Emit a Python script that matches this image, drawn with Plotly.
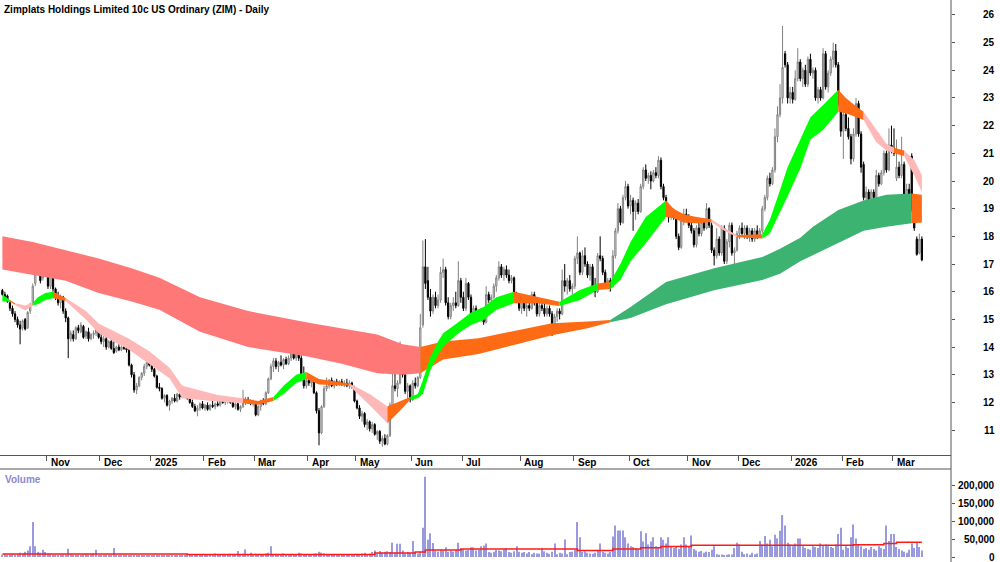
import pandas as pd
import plotly.graph_objects as go

TITLE = "Zimplats Holdings Limited 10c US Ordinary (ZIM) - Daily"

# Daily bars: (open, high, low, close, volume in thousands), one list per month
oct24 = [(16.05,16.1,15.85,15.9,6),(15.9,16.0,15.75,15.8,8),(15.85,15.9,15.6,15.65,5),(15.6,15.65,15.3,15.4,7),
         (15.4,15.5,15.1,15.2,9),(15.2,15.3,14.9,15.0,6),(15.0,15.1,14.7,14.8,8),(14.8,14.95,14.1,14.65,12),
         (14.7,15.0,14.6,14.95,9),(15.0,15.05,14.6,14.65,15),(14.7,15.3,14.65,15.25,18),(15.3,15.6,15.2,15.5,30),
         (15.6,16.3,15.5,16.2,98),(16.3,17.5,16.2,17.0,30),(17.0,17.55,16.6,16.7,14),(16.9,17.2,16.3,16.4,12),
         (16.5,17.25,16.4,17.1,20),(17.05,17.3,16.8,16.95,14)]
nov24 = [(16.95,17.0,16.1,16.2,10),(16.2,16.65,16.1,16.55,8),(16.5,16.6,16.0,16.1,6),(16.1,16.15,15.7,15.8,7),
         (15.8,16.0,15.5,15.6,5),(15.6,15.9,15.4,15.8,8),(15.8,15.85,15.2,15.3,7),(15.3,15.4,14.9,15.05,6),
         (15.05,15.1,13.6,14.3,23),(14.3,14.6,14.2,14.5,8),(14.45,14.6,14.2,14.3,6),(14.3,14.75,14.25,14.7,7),
         (14.7,14.8,14.5,14.6,5),(14.55,14.9,14.5,14.8,6),(14.75,14.8,14.3,14.35,8),(14.4,14.6,14.3,14.55,9),
         (14.55,14.7,14.2,14.3,6),(14.3,14.5,14.25,14.45,7),(14.45,14.6,14.3,14.5,9),(14.5,14.8,14.4,14.7,20),
         (14.7,14.75,14.3,14.35,5)]
dec24 = [(14.35,14.5,14.1,14.2,6),(14.2,14.4,14.0,14.3,5),(14.3,14.4,13.9,14.0,7),(14.0,14.25,13.95,14.2,5),
         (14.2,14.3,13.9,13.95,6),(13.95,14.2,13.75,13.8,25),(13.85,14.05,13.8,14.0,4),(14.0,14.1,13.85,13.9,5),
         (13.9,14.05,13.85,14.0,3),(14.0,14.1,13.9,13.95,6),(13.95,14.05,13.8,13.9,5),(13.9,13.95,13.3,13.35,4),
         (13.35,13.4,12.9,13.0,6),(13.0,13.1,12.35,12.45,5),(12.45,12.7,12.3,12.6,4),(12.6,12.95,12.55,12.9,3),
         (12.9,13.1,12.8,13.05,5),(13.05,13.4,12.95,13.3,6),(13.3,13.55,13.2,13.45,4),(13.45,13.7,13.3,13.35,5)]
jan25 = [(13.35,13.5,13.1,13.2,4),(13.2,13.25,12.9,12.95,5),(12.95,13.0,12.5,12.55,3),(12.55,12.7,12.4,12.5,6),
         (12.5,12.55,12.1,12.15,4),(12.15,12.3,12.0,12.25,5),(12.25,12.3,11.85,11.9,3),(11.9,12.1,11.7,12.05,4),
         (12.05,12.2,11.95,12.15,6),(12.15,12.3,12.0,12.05,5),(12.05,12.35,12.0,12.3,4),(12.3,12.4,12.1,12.2,3),
         (12.2,12.5,12.15,12.45,5),(12.45,12.55,12.3,12.35,6),(12.35,12.4,12.1,12.15,4),(12.15,12.2,11.95,12.0,5),
         (12.0,12.1,11.8,11.85,3),(11.85,11.95,11.65,11.7,4),(11.7,11.9,11.5,11.8,6),(11.8,12.0,11.7,11.95,5),
         (11.95,12.05,11.75,11.8,4)]
feb25 = [(11.8,11.95,11.7,11.9,5),(11.9,12.0,11.7,11.75,8),(11.75,11.95,11.7,11.9,6),(11.9,12.05,11.8,11.85,5),
         (11.85,12.0,11.75,11.95,10),(11.95,12.05,11.85,11.9,7),(11.9,12.1,11.85,12.05,6),(12.05,12.15,11.95,12.0,5),
         (12.0,12.1,11.9,12.05,8),(12.05,12.2,11.95,12.1,7),(12.1,12.15,11.95,12.0,9),(12.0,12.05,11.8,11.85,6),
         (11.85,12.0,11.75,11.95,5),(11.95,12.05,11.7,11.75,17),(11.75,11.9,11.65,11.85,7),(11.85,12.45,11.8,12.0,9),
         (12.0,12.2,11.9,12.1,21),(12.1,12.2,11.95,12.05,6),(12.05,12.1,11.9,11.95,12),(11.95,12.1,11.85,12.0,7)]
mar25 = [(12.0,12.05,11.5,11.55,9),(11.55,11.9,11.5,11.85,7),(11.85,12.1,11.7,12.05,8),(12.05,12.15,11.9,11.95,6),
         (11.95,12.4,11.9,12.35,10),(12.35,12.9,12.3,12.85,12),(12.85,13.4,12.8,13.3,30),(13.3,13.6,13.1,13.5,8),
         (13.5,13.6,13.2,13.3,9),(13.3,13.5,13.1,13.45,7),(13.45,13.7,13.3,13.35,6),(13.35,13.6,13.2,13.55,10),
         (13.55,13.65,13.35,13.4,8),(13.4,13.7,13.35,13.6,7),(13.6,13.95,13.5,13.85,9),(13.85,13.95,13.55,13.6,6),
         (13.6,13.9,13.5,13.8,8),(13.8,13.85,13.5,13.6,12),(13.6,13.7,12.9,13.0,10),(13.0,13.3,12.5,12.6,7),
         (12.6,12.9,12.5,12.8,6)]
apr25 = [(12.8,13.0,12.6,12.7,8),(12.7,12.85,12.55,12.8,6),(12.8,12.85,12.3,12.35,9),(12.35,12.4,11.6,11.7,10),
         (11.7,11.8,10.45,10.9,15),(10.9,11.9,10.85,11.85,12),(11.85,12.6,11.8,12.5,10),(12.5,12.9,12.4,12.6,8),
         (12.6,12.85,12.5,12.8,6),(12.8,12.9,12.55,12.6,5),(12.6,12.8,12.5,12.75,7),(12.75,12.85,12.6,12.7,6),
         (12.7,12.8,12.6,12.75,8),(12.75,12.85,12.6,12.65,5),(12.65,12.8,12.55,12.7,6),(12.7,12.85,12.55,12.6,7),
         (12.6,12.8,12.5,12.7,5),(12.7,12.75,12.5,12.55,6),(12.55,12.6,12.0,12.05,8)]
may25 = [(12.05,12.1,11.75,11.8,9),(11.8,11.9,11.4,11.5,7),(11.5,11.7,11.3,11.6,10),(11.6,11.65,11.1,11.2,12),
         (11.2,11.4,11.0,11.3,8),(11.3,11.35,10.95,11.05,9),(11.05,11.3,10.9,11.2,14),(11.2,11.25,10.8,10.85,18),
         (10.85,11.0,10.65,10.95,10),(10.95,11.0,10.5,10.6,17),(10.6,10.8,10.4,10.7,12),(10.7,10.85,10.45,10.5,15),
         (10.5,10.85,10.45,10.8,16),(10.8,12.0,10.75,11.9,14),(11.9,13.1,11.85,12.6,40),(12.6,13.1,12.4,12.5,12),
         (12.5,12.8,12.2,12.7,37),(12.7,14.2,12.65,13.9,37),(13.9,14.0,12.9,13.0,18),(13.0,13.2,12.3,12.4,10),
         (12.4,12.7,12.1,12.6,14),(12.6,12.65,12.0,12.1,11)]
jun25 = [(12.1,12.8,12.05,12.7,45),(12.7,12.9,12.5,12.6,12),(12.6,12.95,12.55,12.9,10),(12.9,15.2,12.85,14.7,15),
         (14.8,17.85,14.7,16.9,82),(16.9,17.9,16.1,16.3,224),(16.4,16.9,15.7,15.8,48),(15.8,16.1,15.1,15.3,66),
         (15.3,15.9,15.2,15.8,39),(15.8,16.0,15.4,15.5,18),(15.5,15.9,15.4,15.7,15),(15.7,16.9,15.6,16.7,20),
         (16.7,17.2,16.5,16.8,18),(16.8,16.9,15.5,15.6,27),(15.6,15.8,15.0,15.1,14),(15.1,15.6,15.0,15.5,18),
         (15.5,15.8,15.3,15.6,15),(15.6,16.0,15.4,15.5,19),(15.5,17.1,15.45,16.4,40),(16.4,16.5,15.6,15.8,22)]
jul25 = [(15.8,16.0,15.3,15.4,22),(15.4,16.5,15.3,16.3,18),(16.3,16.35,15.7,15.8,20),(15.8,15.9,15.0,15.1,27),
         (15.1,15.5,14.9,15.4,27),(15.4,15.5,15.0,15.1,18),(15.1,15.35,14.9,15.3,20),(15.3,15.4,14.95,15.0,30),
         (15.0,15.1,14.8,14.9,32),(14.9,16.2,14.85,15.9,38),(15.9,16.0,15.6,15.7,14),(15.7,15.9,15.5,15.8,12),
         (15.8,16.3,15.75,16.2,15),(16.2,16.6,16.0,16.5,20),(16.5,17.1,16.4,16.9,18),(16.9,17.0,16.5,16.6,16),
         (16.6,16.9,16.4,16.8,22),(16.8,16.95,16.5,16.6,25),(16.6,16.8,16.3,16.4,14),(16.4,16.6,16.3,16.5,12),
         (16.5,16.55,15.8,15.9,16),(15.9,16.0,15.6,15.7,30),(15.7,15.8,15.3,15.4,15)]
aug25 = [(15.4,15.9,15.2,15.8,12),(15.8,15.9,15.3,15.4,14),(15.4,15.6,15.1,15.5,10),(15.5,15.7,15.3,15.4,14),
         (15.4,16.0,15.35,15.9,8),(15.9,16.0,15.5,15.6,12),(15.6,15.8,15.1,15.2,10),(15.2,15.6,15.1,15.5,9),
         (15.5,15.7,15.3,15.4,25),(15.4,15.6,15.1,15.2,16),(15.2,15.5,15.1,15.4,12),(15.4,15.5,15.1,15.2,9),
         (15.2,15.3,14.4,14.8,15),(14.8,15.2,14.7,15.1,38),(15.1,15.4,14.9,15.3,8),(15.3,15.4,15.0,15.2,12),
         (15.2,16.8,15.15,16.4,10),(16.4,17.0,16.0,16.2,49),(16.2,16.5,15.9,16.4,8),(16.4,16.6,16.0,16.1,14),
         (16.1,16.3,15.9,16.2,15)]
sep25 = [(16.2,17.3,16.1,17.2,20),(17.2,18.0,17.0,17.4,98),(17.4,17.45,16.6,16.7,55),(16.7,17.5,16.6,17.3,14),
         (17.3,17.6,16.9,17.0,16),(17.0,17.1,16.5,16.6,12),(16.6,17.0,16.4,16.9,10),(16.9,17.0,16.1,16.2,9),
         (16.2,16.5,15.8,16.0,12),(16.0,17.4,15.95,17.3,18),(17.3,18.0,17.1,17.2,38),(17.2,17.3,16.6,16.7,15),
         (16.7,16.8,16.2,16.3,12),(16.3,16.5,16.1,16.4,10),(16.4,16.5,16.0,16.2,14),(16.2,17.5,16.15,17.3,57),
         (17.3,18.3,17.2,18.2,88),(18.2,19.2,18.1,19.0,74),(19.0,19.1,18.4,18.5,74),(18.5,19.5,18.45,19.4,74),
         (19.4,20.0,19.3,19.8,55),(19.8,19.9,19.0,19.1,38)]
oct25 = [(19.1,19.5,18.8,19.3,30),(19.3,19.4,18.2,18.9,28),(18.9,19.3,18.6,19.2,25),(19.2,19.35,18.8,18.9,22),
         (18.9,19.9,18.85,19.8,72),(19.8,20.5,19.7,20.4,43),(20.4,20.6,20.0,20.1,66),(20.1,20.3,19.9,20.2,35),
         (20.2,20.35,19.7,20.0,43),(20.0,20.4,19.95,20.3,55),(20.3,20.5,20.1,20.2,30),(20.2,20.9,20.1,20.75,28),
         (20.75,20.85,19.7,19.8,55),(19.8,19.9,19.3,19.4,48),(19.4,19.5,18.8,18.9,38),(18.9,19.1,18.5,18.7,55),
         (18.7,19.0,18.6,18.9,30),(18.9,19.0,18.6,18.75,25),(18.75,18.8,17.9,18.0,28),(18.0,18.1,17.5,17.6,22),
         (17.6,18.8,17.55,18.6,35),(18.6,19.0,18.4,18.8,55),(18.8,19.0,18.5,18.6,35)]
nov25 = [(18.6,18.8,18.3,18.4,30),(18.4,18.5,18.1,18.2,60),(18.2,18.3,17.6,17.7,22),(17.7,18.4,17.6,18.3,18),
         (18.3,18.5,18.0,18.1,15),(18.1,18.6,18.0,18.5,17),(18.5,18.6,18.2,18.3,12),(18.3,19.2,18.25,19.0,15),
         (19.0,19.05,18.3,18.4,14),(18.4,18.5,17.4,17.5,20),(17.5,17.6,16.95,17.3,30),(17.3,18.3,17.2,17.9,8),
         (17.9,18.0,17.3,17.4,6),(17.4,18.4,17.3,18.3,7),(18.3,18.4,17.0,17.1,5),(17.1,17.9,17.0,17.8,6),
         (17.8,18.5,17.6,18.4,8),(18.4,18.5,17.3,17.4,7),(17.4,17.6,16.8,17.5,25),(17.5,18.2,17.45,18.1,40)]
dec25 = [(18.1,18.4,17.9,18.3,35),(18.3,18.5,18.0,18.1,15),(18.1,18.4,17.9,18.3,8),(18.3,18.4,17.9,18.0,10),
         (18.0,18.3,17.8,18.2,6),(18.2,18.3,17.8,17.9,12),(17.9,18.3,17.8,18.2,8),(18.2,18.4,17.9,18.0,10),
         (18.0,18.3,17.95,18.2,45),(18.2,19.1,18.1,19.0,35),(19.0,19.5,18.9,19.4,59),(19.4,20.2,19.3,20.1,38),
         (20.1,20.3,19.8,19.9,48),(19.9,20.5,19.85,20.4,30),(20.4,21.9,20.3,21.6,62),(21.6,22.7,21.4,22.4,52),
         (22.4,23.5,22.3,23.0,73),(23.0,25.6,22.8,24.1,117),(24.6,24.7,24.1,24.2,88),(24.2,24.3,22.8,23.0,40),
         (23.0,23.4,22.8,23.2,35)]
jan26 = [(23.2,23.4,22.8,22.95,30),(22.95,24.0,22.9,23.7,38),(23.7,24.8,23.6,24.3,52),(24.3,24.4,23.6,23.7,52),
         (23.7,24.1,23.4,24.0,30),(24.0,24.2,23.4,23.5,25),(23.5,24.5,23.4,24.4,22),(24.4,24.6,23.8,23.9,20),
         (23.9,24.1,23.7,24.0,30),(24.0,24.1,22.9,23.0,28),(23.0,23.4,22.8,23.3,25),(23.3,23.4,22.9,23.0,38),
         (23.0,24.8,22.95,24.6,33),(24.6,24.7,23.3,23.4,35),(23.4,24.0,23.2,23.9,30),(23.9,24.5,23.8,24.4,28),
         (24.4,25.0,24.1,24.7,25),(24.7,24.95,24.1,24.2,35),(24.2,24.3,22.7,22.8,64),(22.8,22.9,21.6,21.8,82)]
feb26 = [(21.8,22.6,20.8,22.4,20),(22.4,22.5,21.8,21.9,30),(21.9,22.3,21.5,21.6,25),(21.6,21.7,20.6,20.8,55),
         (20.8,21.9,20.7,21.7,91),(21.7,23.0,21.6,22.8,52),(22.8,22.9,21.6,21.7,35),(21.7,21.8,20.3,20.5,30),
         (20.6,20.7,19.3,19.4,22),(19.4,19.8,19.0,19.6,25),(19.6,19.7,18.5,19.2,20),(19.2,19.7,19.1,19.6,28),
         (19.6,19.7,19.3,19.4,22),(19.4,20.4,19.35,20.2,18),(20.2,20.3,19.8,19.9,30),(19.9,20.4,19.85,20.3,25),
         (20.3,21.1,20.2,21.0,22),(21.0,21.1,20.3,20.4,88),(20.4,21.9,20.35,21.3,45),(21.3,22.0,21.0,21.1,64)]
mar26 = [(21.1,21.9,20.9,21.0,64),(20.1,21.5,20.0,20.5,28),(20.5,20.7,20.1,20.2,22),(20.2,21.6,20.1,20.6,18),
         (20.6,20.7,19.0,19.1,15),(19.1,19.9,18.9,19.7,12),(19.7,19.9,19.3,19.5,20),(20.9,21.0,18.9,19.0,38),
         (19.0,19.0,18.2,18.3,25),(17.9,18.0,17.3,17.35,40),(17.4,18.1,17.35,17.9,28),(17.9,18.0,17.1,17.15,18)]

# ASX non-trading weekdays in the period
asx_holidays = ["2024-12-25", "2024-12-26", "2025-01-01", "2025-01-27", "2025-04-18", "2025-04-21",
                "2025-04-25", "2025-06-09", "2025-12-25", "2025-12-26", "2026-01-01", "2026-01-26"]

# Short-term MA ribbon (day index, upper edge, lower edge); state per interval: G rising, O crossing, K falling
short_idx = [0, 3, 5, 9, 12, 14, 17, 20, 25, 33, 38, 50, 58, 66, 71, 85, 95, 101, 107, 111, 116, 120, 125, 137,
             145, 152, 157, 161, 164, 166, 169, 172, 174, 180, 185, 190, 195, 202, 211, 220, 228, 235, 240, 244,
             248, 254, 262, 265, 269, 274, 280, 285, 290, 300, 303, 306, 310, 315, 319, 324, 330, 333, 337, 340,
             345, 349, 352, 356, 360, 363]
short_top = [15.9, 15.7, 15.58, 15.5, 15.6, 15.8, 15.95, 16.0, 15.77, 15.3, 14.85, 14.3, 13.85, 13.25, 12.6, 12.27,
             12.15, 12.05, 12.2, 12.6, 13.0, 13.1, 12.85, 12.68, 12.3, 11.85, 12.05, 12.2, 12.3, 12.8, 13.65, 14.2,
             14.5, 14.9, 15.25, 15.45, 15.8, 16.0, 15.82, 15.64, 16.06, 16.3, 16.36, 17.0, 17.8, 18.7, 19.3, 19.0,
             18.8, 18.7, 18.62, 18.3, 18.05, 18.08, 18.6, 19.4, 20.5, 21.5, 22.3, 22.75, 23.3, 23.0, 22.7, 22.5,
             21.84, 21.35, 21.2, 21.1, 20.76, 20.2]
short_bot = [15.65, 15.65, 15.53, 15.32, 15.5, 15.55, 15.7, 15.76, 15.66, 15.0, 14.5, 13.9, 13.4, 12.87, 12.15, 12.03,
             11.97, 11.92, 12.05, 12.3, 12.7, 12.85, 12.65, 12.6, 11.9, 11.25, 11.7, 12.1, 12.15, 12.3, 13.17, 13.7,
             14.0, 14.5, 14.8, 14.98, 15.35, 15.58, 15.58, 15.48, 15.7, 16.06, 16.1, 16.42, 17.1, 17.75, 18.7, 18.65,
             18.5, 18.47, 18.52, 18.2, 17.97, 17.92, 18.1, 18.7, 19.45, 20.45, 21.5, 21.84, 22.5, 22.45, 22.3, 22.2,
             21.4, 21.1, 21.0, 20.9, 20.2, 19.6]
short_state = "GOKKGGGOKKKKKKKKOOGGGOOKKOOGGGGGGGGGGOOGGOGGGGOOOOKKOGGGGGGGOOOKKKOKK"

# Long-term MA ribbon; state per interval: R falling, O crossing, D rising
long_idx = [0, 12, 25, 38, 51, 62, 78, 97, 121, 134, 148, 158, 165, 174, 188, 198, 217, 231, 240, 248, 262, 281,
            300, 307, 315, 320, 330, 340, 349, 359, 363]
long_top = [18.0, 17.8, 17.5, 17.2, 16.85, 16.5, 15.8, 15.3, 14.88, 14.68, 14.45, 14.1, 14.0, 14.2, 14.32, 14.5,
            14.86, 14.92, 14.98, 15.45, 16.35, 16.85, 17.25, 17.55, 17.95, 18.35, 18.95, 19.3, 19.5, 19.55, 19.5]
long_bot = [16.8, 16.62, 16.4, 15.95, 15.65, 15.35, 14.55, 14.0, 13.65, 13.4, 13.05, 13.0, 13.05, 13.55, 13.75, 14.0,
            14.43, 14.68, 14.9, 15.05, 15.55, 16.05, 16.42, 16.65, 17.1, 17.3, 17.75, 18.2, 18.35, 18.47, 18.5]
long_state = "RRRRRRRRRRRROOOOOODDDDDDDDDDDO"
long_flash_day, long_flash_top, long_flash_bot = 17, 17.65, 16.95

# Volume moving average (step changes: day index, value in thousands)
vol_ma_idx = [0, 73, 147, 163, 167, 181, 227, 241, 252, 260, 272, 336, 348, 353, 363]
vol_ma_val = [8.4, 7.0, 11.0, 14.0, 19.5, 22.0, 18.0, 22.0, 26.0, 29.5, 33.0, 34.5, 37.5, 41.0, 41.0]

price_ticks = list(range(11, 27))
volume_ticks = [0, 50000, 100000, 150000, 200000]

# ---------------------------------------------------------------------------
months = [oct24, nov24, dec24, jan25, feb25, mar25, apr25, may25, jun25, jul25, aug25, sep25,
          oct25, nov25, dec25, jan26, feb26, mar26]
bars = [b for m in months for b in m]
n = len(bars)
opens = [b[0] for b in bars]
highs = [b[1] for b in bars]
lows = [b[2] for b in bars]
closes = [b[3] for b in bars]
vols = [b[4] * 1000 for b in bars]
xs = list(range(n))

dates = pd.bdate_range("2024-10-08", "2026-06-30", freq="C", holidays=asx_holidays)[:n]
month_starts = [i for i in range(1, n) if dates[i].month != dates[i - 1].month]
month_labels = [str(dates[i].year) if dates[i].month == 1 else dates[i].strftime("%b") for i in month_starts]

assert len(short_state) == len(short_idx) - 1 and len(long_state) == len(long_idx) - 1

SHORT_COL = {"G": "#00ff00", "O": "#ff6a14", "K": "#ffb8b8"}
LONG_COL = {"R": "#ff7878", "O": "#ff6a14", "D": "#3cb371"}

fig = go.Figure()


def add_ribbon(idx, top, bot, state, cmap):
    start = 0
    for k in range(1, len(state) + 1):
        if k == len(state) or state[k] != state[start]:
            px = idx[start:k + 1]
            pt = top[start:k + 1]
            pb = bot[start:k + 1]
            fig.add_trace(go.Scatter(x=px + px[::-1], y=pt + pb[::-1], fill="toself",
                                     fillcolor=cmap[state[start]], line=dict(width=0), mode="lines",
                                     hoverinfo="skip", showlegend=False, xaxis="x", yaxis="y"))
            start = k


add_ribbon(long_idx, long_top, long_bot, long_state, LONG_COL)
fig.add_trace(go.Bar(x=[long_flash_day], y=[long_flash_top - long_flash_bot], base=[long_flash_bot],
                     width=0.9, marker=dict(color=LONG_COL["O"], line=dict(width=0)),
                     showlegend=False, hoverinfo="skip", xaxis="x", yaxis="y"))
add_ribbon(short_idx, short_top, short_bot, short_state, SHORT_COL)

fig.add_trace(go.Candlestick(
    x=xs, open=opens, high=highs, low=lows, close=closes,
    increasing=dict(line=dict(color="#808080", width=1), fillcolor="#f4f4f4"),
    decreasing=dict(line=dict(color="#000000", width=1), fillcolor="#000000"),
    whiskerwidth=0, showlegend=False, hoverinfo="skip", xaxis="x", yaxis="y"))

fig.add_trace(go.Bar(x=xs, y=vols, width=0.45, marker=dict(color="#9a9ade", line=dict(width=0)),
                     showlegend=False, hoverinfo="skip", xaxis="x2", yaxis="y2"))
fig.add_trace(go.Scatter(x=vol_ma_idx, y=[v * 1000 for v in vol_ma_val], mode="lines",
                         line=dict(color="#ff1a1a", width=1.5, shape="hv"),
                         showlegend=False, hoverinfo="skip", xaxis="x2", yaxis="y2"))

W, H = 1000, 562
PLOT_R = 951
price_bottom_px = 455
vol_top_px = 469
FONT = "Liberation Sans, Arial, sans-serif"
axis_col = "#555555"

fig.update_layout(
    width=W, height=H, margin=dict(l=0, r=W - PLOT_R, t=0, b=0),
    paper_bgcolor="white", plot_bgcolor="white", showlegend=False, barmode="overlay",
    xaxis=dict(domain=[0, 1], anchor="y", range=[-0.935, 374.5], tickvals=[i - 0.5 for i in month_starts],
               ticks="outside", ticklen=5, tickcolor=axis_col, showticklabels=False, showline=True,
               linecolor=axis_col, linewidth=1, showgrid=False, zeroline=False,
               rangeslider=dict(visible=False)),
    yaxis=dict(domain=[1 - price_bottom_px / H, 1], range=[10.10, 26.54], side="right", anchor="x",
               tickvals=price_ticks, ticks="outside", ticklen=3, tickcolor=axis_col, showticklabels=False,
               showline=False, showgrid=False, zeroline=False),
    xaxis2=dict(domain=[0, 1], anchor="y2", matches="x", showticklabels=False, ticks="",
                showline=False, showgrid=False, zeroline=False),
    yaxis2=dict(domain=[0, (H - vol_top_px) / H], range=[-13966, 245810], side="right", anchor="x2",
                tickvals=volume_ticks, ticks="outside", ticklen=3, tickcolor=axis_col, showticklabels=False,
                showline=False, showgrid=False, zeroline=False),
)

# frame lines: right axis line through both panels and the volume panel top border
fig.add_shape(type="line", xref="paper", yref="paper", x0=1, x1=1, y0=0, y1=1,
              line=dict(color=axis_col, width=1))
fig.add_shape(type="line", xref="paper", yref="paper", x0=0, x1=1,
              y0=(H - vol_top_px) / H, y1=(H - vol_top_px) / H, line=dict(color=axis_col, width=1))

ann = []
ann.append(dict(text="<b>%s</b>" % TITLE, xref="paper", yref="paper", x=2 / PLOT_R, y=1 - 9 / H,
                xanchor="left", yanchor="middle", showarrow=False, font=dict(family=FONT, size=10, color="#000")))
for v in price_ticks:
    ann.append(dict(text="<b>%d</b>" % v, xref="paper", yref="y", x=1, xshift=46, y=v, xanchor="right",
                    yanchor="middle", showarrow=False, font=dict(family=FONT, size=10, color="#000")))
for v in volume_ticks:
    ann.append(dict(text="<b>{:,}</b>".format(v), xref="paper", yref="y2", x=1, xshift=46, y=v,
                    xanchor="right", yanchor="middle", showarrow=False,
                    font=dict(family=FONT, size=10, color="#000")))
for i, lab in zip(month_starts, month_labels):
    ann.append(dict(text="<b>%s</b>" % lab, xref="x", yref="paper", x=i - 0.5, xshift=2,
                    y=(H - 462.5) / H, xanchor="left", yanchor="middle", showarrow=False,
                    font=dict(family=FONT, size=10, color="#000")))
ann.append(dict(text="<b>Volume</b>", xref="paper", yref="paper", x=3 / PLOT_R, y=(H - 479) / H,
                xanchor="left", yanchor="middle", showarrow=False,
                font=dict(family=FONT, size=10, color="#8a8acc")))
fig.update_layout(annotations=ann)

fig.write_html("out.html")
